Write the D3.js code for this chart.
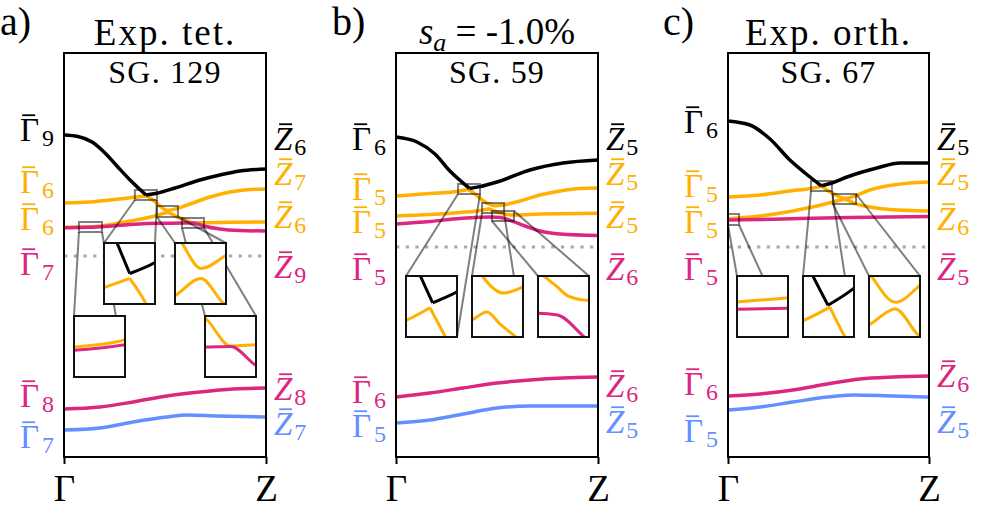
<!DOCTYPE html>
<html><head><meta charset="utf-8">
<script src="https://cdn.jsdelivr.net/npm/d3@7"></script>
<style>
body{margin:0;background:#fff}
svg{display:block}
text{font-family:"Liberation Serif","DejaVu Serif",serif}
</style>
</head><body>
<svg id="chart" width="996" height="526"></svg>
<script>
// ---------------- DATA (k along Γ→Z in [0,1], energy in arbitrary units) ----------------
const kTickLabels = ["Γ", "Z"];
const panelLetters = ["a)", "b)", "c)"];
const panelTitles = ["Exp. tet.", "s_a = -1.0%", "Exp. orth."];
const panelSubtitles = ["SG. 129", "SG. 59", "SG. 67"];
const fermiLevels = [-0.5, 4, 4];

// panel a
const aBlack1 = [[0,60],[0.069,59.25],[0.139,56.5],[0.203,51],[0.262,44.5],[0.327,37.5],[0.406,30]];
const aBlack2 = [[0.406,30],[0.460,30.9],[0.550,33.5],[0.673,37.5],[0.772,40],[0.871,42],[1,43]];
const aOrangeUp1 = [[0,26],[0.129,26.5],[0.252,27.75],[0.351,28.85],[0.406,29.6]];
const aOrangeUp2 = [[0.406,29.6],[0.441,27.5],[0.477,24.3],[0.513,22.2],[0.564,23.4],[0.624,25.5],[0.723,29],[0.822,31.5],[0.921,32.75],[1,33]];
const aOrangeLow = [[0,13.85],[0.074,13.95],[0.188,14.55],[0.327,17],[0.460,19.75],[0.513,21.3],[0.558,19.1],[0.589,18.15],[0.638,16.05],[0.691,16.15],[0.822,16.35],[1,16.5]];
const aMagenta = [[0,13.6],[0.074,13.7],[0.188,14.15],[0.327,15.25],[0.475,15.9],[0.589,15.95],[0.639,16],[0.691,14.5],[0.772,13],[0.871,12.25],[1,12]];
const aMagentaLow = [[0,-77],[0.178,-76],[0.342,-73.5],[0.510,-70.5],[0.673,-68.5],[0.837,-67],[1,-66.5]];
const aBlue = [[0,-87.5],[0.178,-86.5],[0.342,-83.5],[0.510,-81],[0.609,-80],[0.757,-80.5],[1,-81]];
const aLabelsL = [["Γ","9","k",57],["Γ","6","o",31],["Γ","6","o",12.5],["Γ","7","m",-10],["Γ","8","m",-76],["Γ","7","b",-96.5]];
const aLabelsR = [["Z","6","k",52.5],["Z","7","o",35],["Z","6","o",13.5],["Z","9","m",-11.5],["Z","8","m",-72.5],["Z","7","b",-90]];
const aZoomBoxes = [[0.351,0.460,27.5,32.5],[0.460,0.564,19,24.5],[0.074,0.188,11.5,16.5],[0.584,0.693,13.5,18.5]];

// panel b
const bBlack1 = [[0,59],[0.104,56.5],[0.193,50.5],[0.267,42],[0.364,33.3]];
const bBlack2 = [[0.364,33.3],[0.416,34.2],[0.5,36.5],[0.663,42.5],[0.827,46],[1,47.5]];
const bOrangeUp1 = [[0,29.5],[0.168,30.75],[0.309,31.9],[0.358,32.9]];
const bOrangeUp2 = [[0.358,32.9],[0.390,30.6],[0.450,25.9],[0.494,24.6],[0.535,25.1],[0.614,27],[0.713,30],[0.812,32],[0.911,33.25],[1,33.5]];
const bOrangeLow = [[0,19.5],[0.168,20.25],[0.317,21.25],[0.426,22.4],[0.458,23.05],[0.486,22.05],[0.515,21.15],[0.540,20.35],[0.584,20],[0.713,20.5],[1,20.85]];
const bMagenta = [[0,15.5],[0.168,16.75],[0.317,18.25],[0.416,18.85],[0.475,18.95],[0.517,18.8],[0.571,17.1],[0.639,14.5],[0.713,12],[0.812,10.5],[1,9.75]];
const bMagentaLow = [[0,-71],[0.168,-69],[0.332,-66.5],[0.5,-64],[0.663,-62.5],[0.827,-61.5],[1,-61]];
const bBlue = [[0,-84],[0.168,-82.5],[0.332,-79.5],[0.5,-76.5],[0.663,-75.5],[0.827,-75.5],[1,-75.5]];
const bLabelsL = [["Γ","6","k",52.5],["Γ","5","o",27.5],["Γ","5","o",11],["Γ","5","m",-12.5],["Γ","6","m",-74],["Γ","5","b",-91]];
const bLabelsR = [["Z","5","k",52.5],["Z","5","o",35],["Z","5","o",13.5],["Z","6","m",-12.5],["Z","6","m",-71],["Z","5","b",-89]];
const bZoomBoxes = [[0.307,0.416,30.5,35.5],[0.426,0.535,21,26],[0.475,0.584,17,22]];

// panel c
const cBlack1 = [[0,67],[0.109,65],[0.209,58],[0.308,47.5],[0.383,41],[0.464,34.6]];
const cBlack2 = [[0.464,34.6],[0.517,36],[0.592,39],[0.741,43.5],[0.856,46],[1,46]];
const cOrangeUp1 = [[0,29],[0.159,30],[0.308,32],[0.417,33.4],[0.468,34.45]];
const cOrangeUp2 = [[0.468,34.45],[0.499,32],[0.529,30.4],[0.581,28.35],[0.637,29.75],[0.706,32.5],[0.806,34.75],[0.905,36],[1,36.5]];
const cOrangeLow = [[0,18.15],[0.159,19.5],[0.294,21.5],[0.418,24],[0.529,26.65],[0.581,27.8],[0.632,25.7],[0.706,24],[0.806,22.75],[1,22]];
const cMagenta = [[0,17.5],[0.159,17.75],[0.358,18.25],[0.607,18.75],[1,19.25]];
const cMagentaLow = [[0,-70.5],[0.159,-69.5],[0.323,-67.5],[0.493,-64.5],[0.657,-62],[0.821,-61],[1,-60.5]];
const cBlue = [[0,-77.5],[0.159,-76],[0.323,-73.5],[0.493,-71],[0.622,-70],[0.821,-70.5],[1,-71]];
const cLabelsL = [["Γ","6","k",61],["Γ","5","o",29],["Γ","5","o",11],["Γ","5","m",-12.5],["Γ","6","m",-70],["Γ","5","b",-93.5]];
const cLabelsR = [["Z","5","k",52.5],["Z","5","o",35],["Z","6","o",12.5],["Z","5","m",-12.5],["Z","6","m",-66],["Z","5","b",-89]];
const cZoomBoxes = [[0,0.055,15,20.5],[0.413,0.517,32,37],[0.522,0.637,25.5,30.5]];

// ---------------- STYLE / LAYOUT ----------------
const COLORS = {k:"#000000", o:"#FFB000", m:"#DC267F", b:"#648FFF"};
const TOP = 53, BOTTOM = 457;
const LABEL_FS = 33, SUB_FS = 24, SUB_DY = 5;
const panelLayout = [
  {left:64, width:202, letterX:0,
   insets:[{dx:40,dy:190},{dx:111,dy:190},{dx:10,dy:263},{dx:141,dy:263}],
   conn:[[[0,1,0,0],[1,1,1,0]],[[0,1,0,0],[1,1,1,0]],[[0,1,0,0],[1,1,0.82,0]],[[0,1,0,0],[1,1,1,0]]]},
  {left:396, width:202, letterX:332,
   insets:[{dx:10,dy:223},{dx:76,dy:223},{dx:142,dy:223}],
   conn:[[[0,1,0,0],[1,1,1,1]],[[0,1,0,0],[1,1,0.82,0]],[[0,1,0,0],[1,0,1,0]]]},
  {left:728, width:201, letterX:663,
   insets:[{dx:9,dy:223},{dx:75,dy:223},{dx:141,dy:223}],
   conn:[[[0,1,0,0],[1,1,0.5,0]],[[0,1,0,0],[1,1,0.82,0]],[[0,1,0,0],[1,0,1,0]]]}
];
const INSET_W = 51, INSET_H = 61;

const panels = [
  {bands:[{c:"o",segs:[aOrangeUp1,aOrangeUp2]},{c:"o",segs:[aOrangeLow]},{c:"m",segs:[aMagenta]},{c:"k",segs:[aBlack1,aBlack2]},{c:"m",segs:[aMagentaLow]},{c:"b",segs:[aBlue]}],
   labelsL:aLabelsL, labelsR:aLabelsR, boxes:aZoomBoxes},
  {bands:[{c:"o",segs:[bOrangeUp1,bOrangeUp2]},{c:"o",segs:[bOrangeLow]},{c:"m",segs:[bMagenta]},{c:"k",segs:[bBlack1,bBlack2]},{c:"m",segs:[bMagentaLow]},{c:"b",segs:[bBlue]}],
   labelsL:bLabelsL, labelsR:bLabelsR, boxes:bZoomBoxes},
  {bands:[{c:"o",segs:[cOrangeUp1,cOrangeUp2]},{c:"o",segs:[cOrangeLow]},{c:"m",segs:[cMagenta]},{c:"k",segs:[cBlack1,cBlack2]},{c:"m",segs:[cMagentaLow]},{c:"b",segs:[cBlue]}],
   labelsL:cLabelsL, labelsR:cLabelsR, boxes:cZoomBoxes}
];

// ---------------- DRAW ----------------
const svg = d3.select("#chart");
const y = d3.scaleLinear().domain([-101, 101]).range([BOTTOM, TOP]);
const defs = svg.append("defs");

function drawBands(g, bands, sx, sy, width) {
  bands.forEach(b => {
    b.segs.forEach(seg => {
      const line = d3.line().x(d => sx(d[0])).y(d => sy(d[1])).curve(d3.curveMonotoneX);
      g.append("path").attr("d", line(seg)).attr("fill", "none")
        .attr("stroke", COLORS[b.c]).attr("stroke-width", width)
        .attr("stroke-linecap", "butt").attr("stroke-linejoin", "round");
    });
  });
}

function bandLabel(g, xPos, yPos, anchor, main, sub, color, italic) {
  const t = g.append("text").attr("x", xPos).attr("y", yPos)
    .attr("text-anchor", anchor).attr("fill", color);
  t.append("tspan").text(main).attr("font-size", LABEL_FS)
    .attr("font-style", italic ? "italic" : "normal");
  t.append("tspan").text(sub).attr("font-size", SUB_FS).attr("dx", italic ? 2 : 3).attr("dy", SUB_DY);
  // overbar (macron) over the main symbol, measured from the rendered glyph
  const ext = t.node().getExtentOfChar(0);
  const capTop = yPos - 0.66 * LABEL_FS;
  const f0 = italic ? 0.28 : 0.12, f1 = italic ? 0.98 : 0.80;
  g.append("line")
    .attr("x1", ext.x + f0 * ext.width).attr("x2", ext.x + f1 * ext.width)
    .attr("y1", capTop - 4).attr("y2", capTop - 4)
    .attr("stroke", color).attr("stroke-width", 1.8);
}

panels.forEach((p, pi) => {
  const L = panelLayout[pi];
  const x = d3.scaleLinear().domain([0, 1]).range([L.left, L.left + L.width]);
  const g = svg.append("g");

  // fermi level (dotted)
  g.append("line").attr("x1", x(0)).attr("x2", x(1))
    .attr("y1", y(fermiLevels[pi])).attr("y2", y(fermiLevels[pi]))
    .attr("stroke", "#ababab").attr("stroke-width", 3).attr("stroke-dasharray", "3.3,6.4");

  drawBands(g, p.bands, x, y, 3.5);

  // frame
  g.append("rect").attr("x", x(0)).attr("y", TOP).attr("width", x(1) - x(0)).attr("height", BOTTOM - TOP)
    .attr("fill", "none").attr("stroke", "#000").attr("stroke-width", 2);

  // x axis ticks
  const ax = g.append("g").attr("transform", `translate(0,${BOTTOM})`)
    .call(d3.axisBottom(x).tickValues([0, 1]).tickSize(7).tickPadding(11).tickFormat((d, i) => kTickLabels[i]));
  ax.select(".domain").remove();
  ax.selectAll(".tick line").attr("stroke", "#000").attr("stroke-width", 2);
  ax.selectAll(".tick text").attr("font-size", 37).attr("fill", "#000");

  // zoom boxes and connectors
  p.boxes.forEach((bx, bi) => {
    const bx0 = x(bx[0]), bx1 = x(bx[1]), by0 = y(bx[3]), by1 = y(bx[2]);
    const pos = L.insets[bi];
    const ix = L.left + pos.dx, iy = TOP + pos.dy;
    L.conn[bi].forEach(c => {
      g.append("line")
        .attr("x1", bx0 + c[0] * (bx1 - bx0)).attr("y1", by0 + c[1] * (by1 - by0))
        .attr("x2", ix + c[2] * INSET_W).attr("y2", iy + c[3] * INSET_H)
        .attr("stroke", "#000").attr("stroke-opacity", 0.5).attr("stroke-width", 2);
    });
    g.append("rect").attr("x", bx0).attr("y", by0).attr("width", bx1 - bx0).attr("height", by1 - by0)
      .attr("fill", "none").attr("stroke", "#000").attr("stroke-opacity", 0.5).attr("stroke-width", 2);
  });
  // insets
  p.boxes.forEach((bx, bi) => {
    const pos = L.insets[bi];
    const ix = L.left + pos.dx, iy = TOP + pos.dy;
    const sx = d3.scaleLinear().domain([bx[0], bx[1]]).range([ix, ix + INSET_W]);
    const sy = d3.scaleLinear().domain([bx[2], bx[3]]).range([iy + INSET_H, iy]);
    const cid = `clip-${pi}-${bi}`;
    defs.append("clipPath").attr("id", cid).append("rect")
      .attr("x", ix).attr("y", iy).attr("width", INSET_W).attr("height", INSET_H);
    g.append("rect").attr("x", ix).attr("y", iy).attr("width", INSET_W).attr("height", INSET_H).attr("fill", "#fff");
    const ig = g.append("g").attr("clip-path", `url(#${cid})`);
    drawBands(ig, p.bands, sx, sy, 3);
    g.append("rect").attr("x", ix).attr("y", iy).attr("width", INSET_W).attr("height", INSET_H)
      .attr("fill", "none").attr("stroke", "#111").attr("stroke-width", 2);
  });

  // band labels
  p.labelsL.forEach(l => bandLabel(g, x(0) - 10, y(l[3]), "end", l[0], l[1], COLORS[l[2]], false));
  p.labelsR.forEach(l => bandLabel(g, x(1) + 8, y(l[3]), "start", l[0], l[1], COLORS[l[2]], true));

  // titles
  svg.append("text").attr("x", L.letterX).attr("y", 35).attr("font-size", 40).text(panelLetters[pi]);
  const cx = (x(0) + x(1)) / 2;
  if (pi === 1) {
    const parts = panelTitles[pi].split("=");
    const t = svg.append("text").attr("x", cx).attr("y", 44).attr("text-anchor", "middle").attr("font-size", 37);
    t.append("tspan").attr("font-style", "italic").text(parts[0].split("_")[0]);
    t.append("tspan").attr("font-style", "italic").attr("font-size", 26).attr("dy", 7).text(parts[0].split("_")[1].trim());
    t.append("tspan").attr("dy", -7).text(" = ");
    t.append("tspan").text(parts[1].trim());
  } else {
    svg.append("text").attr("x", cx).attr("y", 45).attr("text-anchor", "middle")
      .attr("font-size", 37).attr("letter-spacing", 2).text(panelTitles[pi]);
  }
  svg.append("text").attr("x", cx).attr("y", 83).attr("text-anchor", "middle")
    .attr("font-size", 32).attr("letter-spacing", 1.2).text(panelSubtitles[pi]);
});
</script>
</body></html>
